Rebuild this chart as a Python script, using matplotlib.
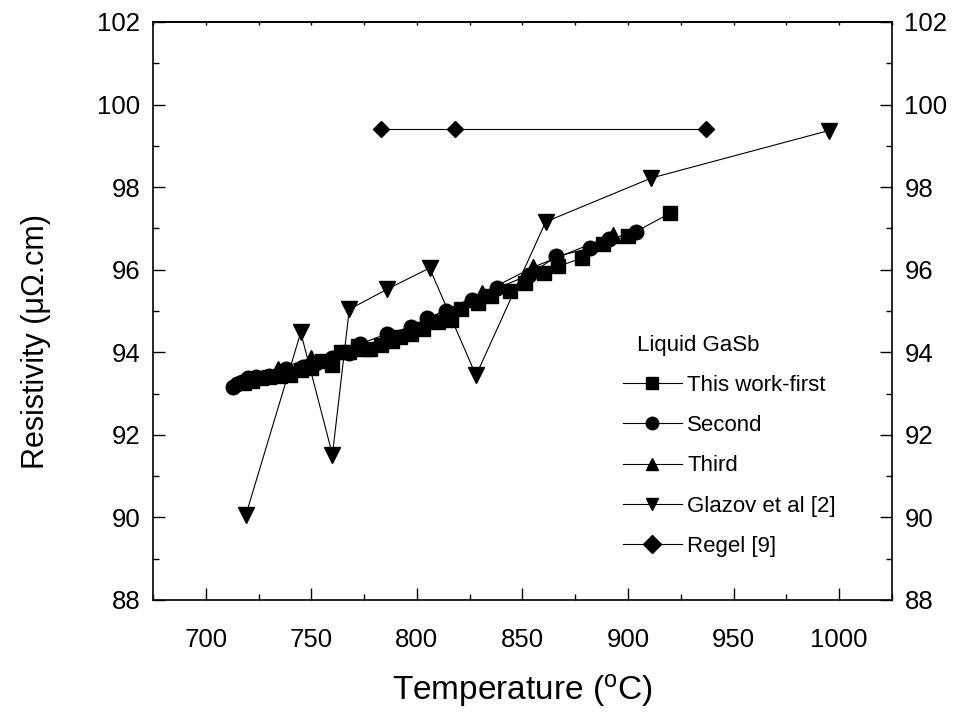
import matplotlib.pyplot as plt
from matplotlib.ticker import MultipleLocator

# Data (temperature in C, resistivity in micro-ohm cm)
first_T = [718, 722, 726, 730, 735, 740, 745, 750, 755, 760, 764, 768, 772, 778,
           783, 788, 792, 797, 803, 810, 816, 821, 829, 835, 844, 851, 860, 867,
           878, 888, 900, 920]
first_R = [93.25, 93.3, 93.38, 93.4, 93.42, 93.45, 93.57, 93.62, 93.8, 93.7, 94.0,
           94.0, 94.15, 94.08, 94.18, 94.28, 94.37, 94.45, 94.57, 94.74, 94.78,
           95.04, 95.19, 95.37, 95.49, 95.67, 95.92, 96.08, 96.28, 96.62, 96.82,
           97.37]

second_T = [713, 715, 717, 720, 724, 730, 738, 746, 752, 760, 768, 773, 786, 797,
            805, 814, 826, 838, 853, 866, 882, 891, 904]
second_R = [93.15, 93.22, 93.29, 93.38, 93.4, 93.42, 93.6, 93.65, 93.75, 93.85,
            93.98, 94.2, 94.45, 94.61, 94.83, 95.0, 95.27, 95.55, 95.87, 96.32,
            96.52, 96.74, 96.92]

third_T = [734, 750, 775, 831, 855, 893]
third_R = [93.59, 93.86, 94.1, 95.43, 96.06, 96.84]

glazov_T = [719, 745, 760, 768, 786, 806, 828, 861, 911, 995]
glazov_R = [90.06, 94.48, 91.52, 95.04, 95.53, 96.04, 93.44, 97.16, 98.22, 99.37]

regel_T = [783, 818, 937]
regel_R = [99.4, 99.4, 99.4]

plt.rcParams['font.family'] = ['Liberation Sans', 'DejaVu Sans']
plt.rcParams['mathtext.fontset'] = 'custom'
plt.rcParams['mathtext.rm'] = 'Liberation Sans'

fig = plt.figure(figsize=(9.59, 7.14), dpi=100)
ax = fig.add_axes([0.1595, 0.1597, 0.7706, 0.8095])

kw = dict(color='black', linewidth=0.8)
ax.plot(first_T, first_R, marker='s', markersize=10, label='This work-first', **kw)
ax.plot(second_T, second_R, marker='o', markersize=10.5, label='Second', **kw)
ax.plot(third_T, third_R, marker='^', markersize=11, label='Third', **kw)
ax.plot(glazov_T, glazov_R, marker='v', markersize=12, label='Glazov et al [2]', **kw)
ax.plot(regel_T, regel_R, marker='D', markersize=8.5, label='Regel [9]', **kw)

ax.set_xlim(675, 1025)
ax.set_ylim(88, 102)
ax.xaxis.set_major_locator(MultipleLocator(50))
ax.xaxis.set_minor_locator(MultipleLocator(25))
ax.yaxis.set_major_locator(MultipleLocator(2))
ax.yaxis.set_minor_locator(MultipleLocator(1))

ax.tick_params(which='both', direction='in', width=1.0, top=False, right=True,
               labelright=True, labelsize=18.5)
ax.tick_params(which='major', length=8.5)
ax.tick_params(which='minor', length=4.5)
ax.tick_params(axis='x', which='major', pad=20)
ax.tick_params(axis='y', which='major', pad=9)
for s in ax.spines.values():
    s.set_linewidth(1.2)

# the top axis only has tiny tick stubs
top = ax.secondary_xaxis('top')
top.xaxis.set_major_locator(MultipleLocator(50))
top.xaxis.set_minor_locator(MultipleLocator(25))
top.tick_params(which='both', direction='in', length=2, width=1.0, labeltop=False)
top.spines['top'].set_linewidth(1.2)

ax.set_xlabel(r'Temperature ($\mathregular{^o}$C)', fontsize=24)
ax.xaxis.set_label_coords(0.5, -0.125)
ax.set_ylabel('Resistivity (\u03bc\u03a9.cm)', fontsize=22)
ax.yaxis.set_label_coords(-0.138, 0.448)

# legend title drawn as plain text, indented like the original
ax.text(0.655, 0.441, 'Liquid GaSb', transform=ax.transAxes, fontsize=16,
        va='center', ha='left')
leg = ax.legend(loc='upper left', bbox_to_anchor=(0.624, 0.405), frameon=False,
                fontsize=16, numpoints=1, handlelength=2.65, handletextpad=0.25,
                labelspacing=0.87, borderaxespad=0)
for h in leg.legend_handles:
    h.set_markersize(9)

plt.savefig('out.png', dpi=100)
